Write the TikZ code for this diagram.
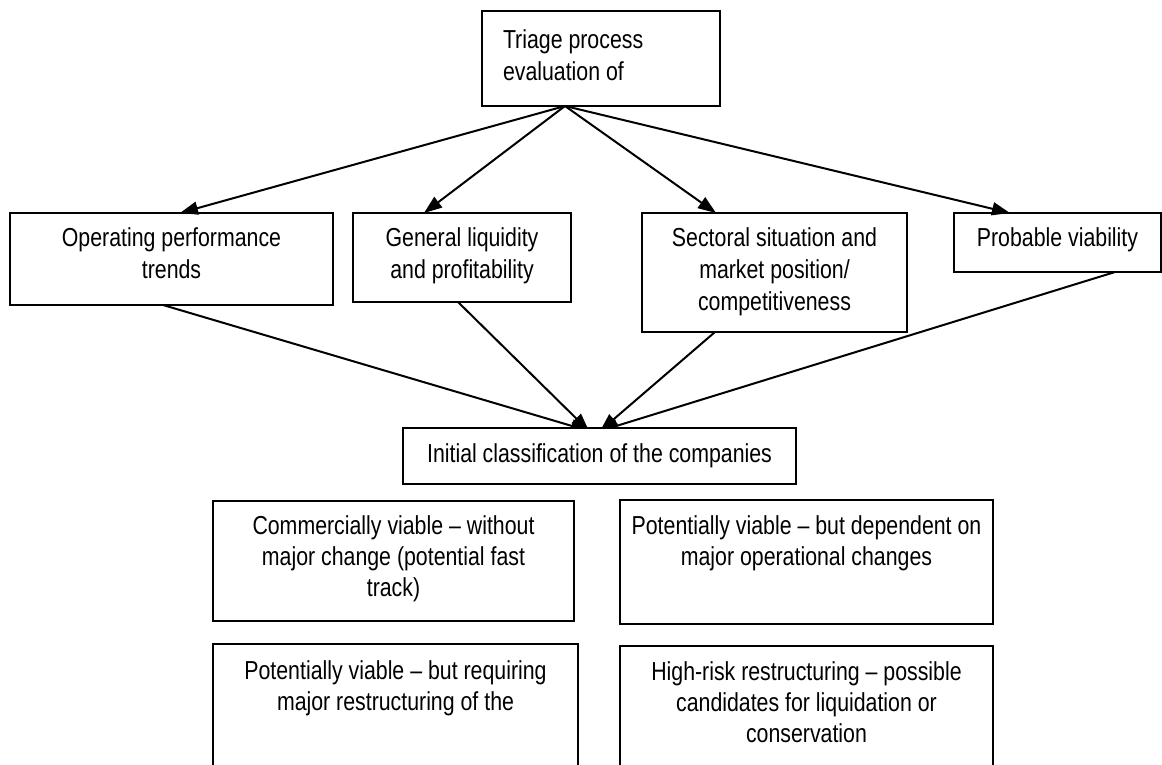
\documentclass[tikz,border=0pt]{standalone}
\usepackage{fontspec}
\setmainfont{Liberation Sans}[FakeStretch=0.82]
\usetikzlibrary{arrows.meta}

% box with text set from its top edge: width, height, first-baseline depth, text
\newcommand\boxtxt[4]{\parbox[t][#2pt][t]{#1pt}{\centering\rule{0pt}{#3pt}#4}}
\newcommand\boxtxtl[4]{\parbox[t][#2pt][t]{#1pt}{\raggedright\rule{0pt}{#3pt}#4}}

\begin{document}
\begin{tikzpicture}[x=1pt,y=-1pt,
  box/.style={draw=black, line width=2pt, fill=white, inner sep=0pt, outer sep=0pt, anchor=north west,
    font=\fontsize{26}{32}\selectfont},
  lowbox/.style={box, font=\fontsize{26}{31}\selectfont},
  arr/.style={line width=2pt, -{Triangle[length=18pt,width=13pt]}}]
\useasboundingbox (0,0) rectangle (1162,764);

% top node
\node[box] (top) at (482,11) {\hspace*{21pt}\boxtxtl{217}{95}{37}{Triage process\\evaluation of}};

% evaluation criteria
\node[box] (op) at (10,213) {\boxtxt{323}{92}{33}{Operating performance\\trends}};
\node[box] (gl) at (353,213) {\boxtxt{218}{89}{33}{General liquidity\\and profitability}};
\node[box] (sc) at (642,213) {\boxtxt{265}{119}{33}{Sectoral situation and\\market position/\\competitiveness}};
\node[box] (pv) at (954,213) {\boxtxt{207}{59}{33}{Probable viability}};

% arrows from the top node
\coordinate (src) at (565,106);
\coordinate (opIn) at (180,213);
\coordinate (glIn) at (424,213);
\coordinate (scIn) at (716,213);
\coordinate (pvIn) at (1010,213);
\draw[arr] (src) -- (opIn);
\draw[arr] (src) -- (glIn);
\draw[arr] (src) -- (scIn);
\draw[arr] (src) -- (pvIn);

% arrows into the classification node
\coordinate (opOut) at (163,305);
\coordinate (glOut) at (458,302);
\coordinate (scOut) at (715,332);
\coordinate (pvOut) at (1115,272);
\coordinate (inL) at (589,431);
\coordinate (inR) at (600,431);
\draw[arr] (opOut) -- (inL);
\draw[arr] (glOut) -- (inL);
\draw[arr] (scOut) -- (inR);
\draw[arr] (pvOut) -- (inR);

% classification
\node[box] (ic) at (403,428) {\boxtxt{393}{56}{34}{Initial classification of the companies}};

\node[lowbox] (c1) at (213,501) {\boxtxt{361}{120}{33}{Commercially viable -- without\\major change (potential fast\\track)}};
\node[lowbox] (c2) at (620,500) {\boxtxt{373}{124}{34}{Potentially viable -- but dependent on\\major operational changes}};
\node[lowbox] (c3) at (213,644) {\boxtxt{365}{130}{35}{Potentially viable -- but requiring\\major restructuring of the}};
\node[lowbox] (c4) at (620,646) {\boxtxt{373}{130}{34}{High-risk restructuring -- possible\\candidates for liquidation or\\conservation}};
\end{tikzpicture}
\end{document}
